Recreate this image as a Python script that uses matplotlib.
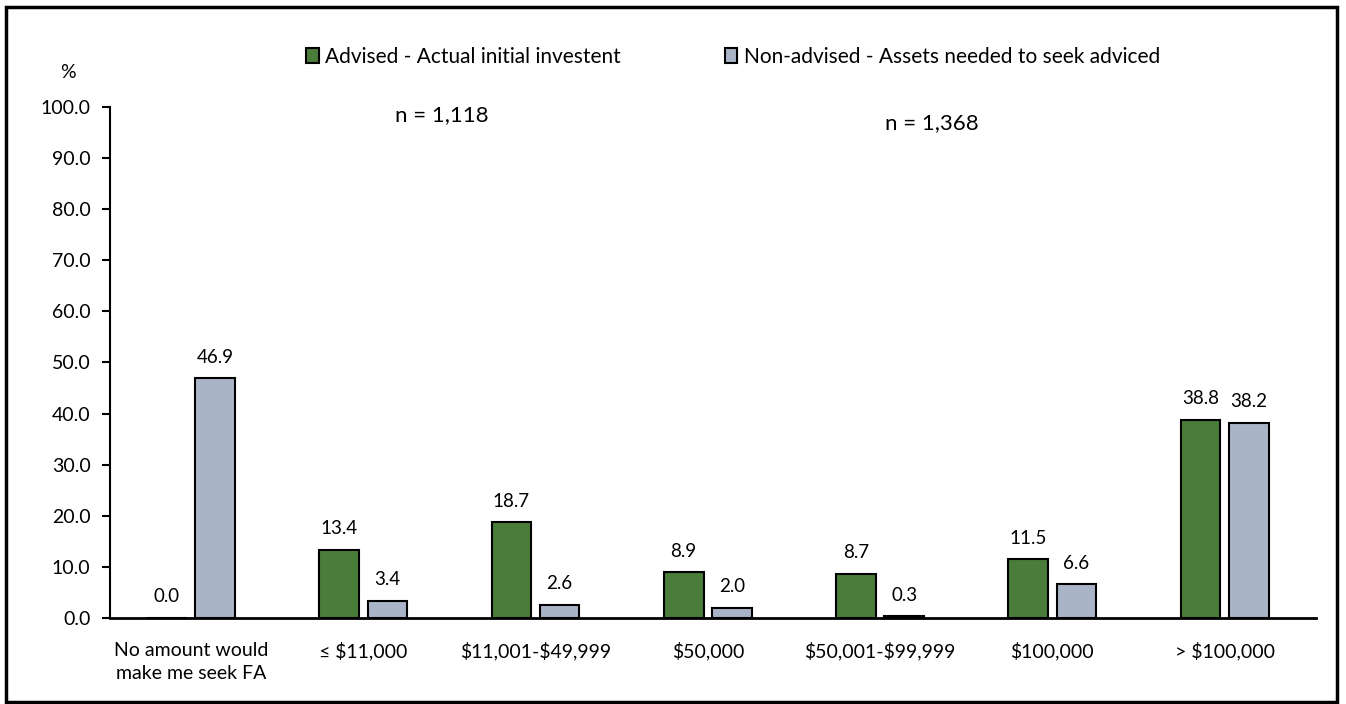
import matplotlib.pyplot as plt
import numpy as np
from matplotlib.patches import Rectangle

plt.rcParams['font.family'] = ['Lato', 'DejaVu Sans']
plt.rcParams['text.parse_math'] = False

# Data
categories = ["No amount would\nmake me seek FA", "\u2264 $11,000", "$11,001-$49,999",
              "$50,000", "$50,001-$99,999", "$100,000", "> $100,000"]
advised = [0.0, 13.4, 18.7, 8.9, 8.7, 11.5, 38.8]
non_advised = [46.9, 3.4, 2.6, 2.0, 0.3, 6.6, 38.2]
y_ticks = [0, 10, 20, 30, 40, 50, 60, 70, 80, 90, 100]

green = "#4a7d39"
grey = "#aab4c7"

fig = plt.figure(figsize=(13.46, 7.04), dpi=100)
ax = fig.add_axes([0.0817, 0.1222, 0.896, 0.7258])

x = np.arange(len(categories))
width = 0.23
offset = 0.14

b1 = ax.bar(x - offset, advised, width, color=green, edgecolor="black", linewidth=1.5,
            label="Advised - Actual initial investent")
b2 = ax.bar(x + offset, non_advised, width, color=grey, edgecolor="black", linewidth=1.5,
            label="Non-advised - Assets needed to seek adviced")

# value labels above bars
for bars in (b1, b2):
    for rect in bars:
        h = rect.get_height()
        ax.annotate(f"{h:.1f}", (rect.get_x() + rect.get_width() / 2, h),
                    xytext=(0, 9), textcoords="offset points",
                    ha="center", va="bottom", fontsize=13.5)

ax.set_xlim(-0.47, len(categories) - 0.47)
ax.set_ylim(0, 100)
ax.set_yticks(y_ticks)
ax.set_yticklabels([f"{t:.1f}" for t in y_ticks], fontsize=14)
ax.set_xticks(x)
ax.set_xticklabels(categories, fontsize=14, va="top", linespacing=1.45)
ax.tick_params(axis="x", length=0, pad=17)
ax.tick_params(axis="y", direction="out", length=6, width=1.5, pad=8)

for s in ("top", "right"):
    ax.spines[s].set_visible(False)
ax.spines["left"].set_linewidth(1.5)
ax.spines["bottom"].set_linewidth(2)

fig.text(68 / 1346, 1 - 73 / 704, "%", fontsize=14, ha="center", va="center")
fig.text(442 / 1346, 1 - 115 / 704, "n = 1,118", fontsize=16, ha="center", va="center")
fig.text(932 / 1346, 1 - 123 / 704, "n = 1,368", fontsize=16, ha="center", va="center")

fig.legend(handles=[b1, b2], loc="center", bbox_to_anchor=(733 / 1346, 1 - 57 / 704),
           ncol=2, frameon=False, fontsize=15, handlelength=0.6, handleheight=0.7,
           handletextpad=0.3, columnspacing=5)

# outer frame
fig.patches.append(Rectangle((6 / 1346, 2 / 704), 1331 / 1346, 695 / 704,
                             transform=fig.transFigure, fill=False,
                             edgecolor="black", linewidth=2.5))

fig.savefig("out.png", dpi=100)
